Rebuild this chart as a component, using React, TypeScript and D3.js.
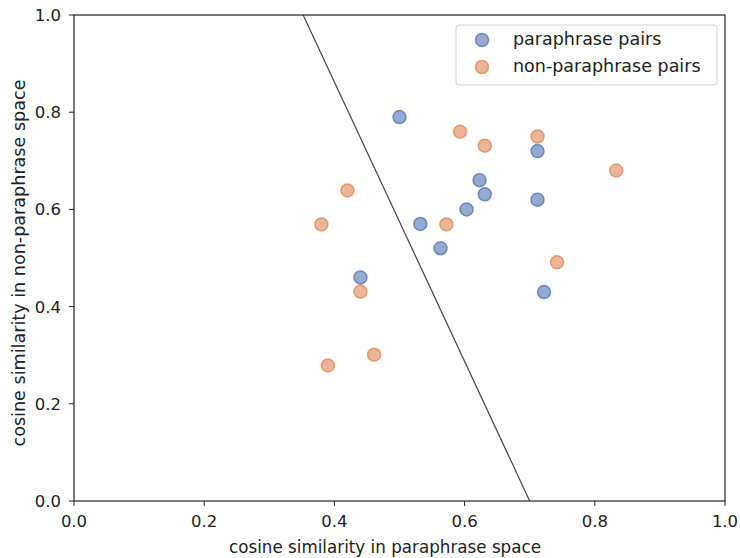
import React from "react";
import * as d3 from "d3";

const paraX = [0.5, 0.712, 0.623, 0.631, 0.712, 0.603, 0.532, 0.563, 0.44, 0.722];
const paraY = [0.79, 0.72, 0.66, 0.631, 0.62, 0.6, 0.57, 0.52, 0.46, 0.43];
const nonX = [0.593, 0.631, 0.712, 0.833, 0.42, 0.38, 0.572, 0.742, 0.44, 0.461, 0.39];
const nonY = [0.76, 0.731, 0.75, 0.68, 0.639, 0.569, 0.569, 0.491, 0.431, 0.301, 0.279];
const boundaryX = [0.352, 0.7];
const boundaryY = [1.0, 0.0];
const ticks = [0, 0.2, 0.4, 0.6, 0.8, 1.0];
const seriesNames = ["paraphrase pairs", "non-paraphrase pairs"];
const seriesColors = ["#4c72b0", "#dd8452"];

export default function App() {
  const W = 740, H = 558;
  const x = d3.scaleLinear().domain([0, 1]).range([74, 725]);
  const y = d3.scaleLinear().domain([0, 1]).range([501, 15]);
  const font = "DejaVu Sans, sans-serif";
  const line = d3.line<number>().x((d) => x(boundaryX[d])).y((d) => y(boundaryY[d]));
  const series = [
    { xs: paraX, ys: paraY },
    { xs: nonX, ys: nonY },
  ];
  return (
    <svg width={W} height={H} style={{ position: "absolute", left: 0, top: 0, background: "#fff" }}>
      <path d={line([0, 1]) || ""} stroke="#444" strokeWidth={1.2} fill="none" />
      {series.map((s, si) =>
        s.xs.map((v, i) => (
          <circle
            key={si + "-" + i}
            cx={x(v)}
            cy={y(s.ys[i])}
            r={6.5}
            fill={seriesColors[si]}
            fillOpacity={0.6}
            stroke={seriesColors[si]}
            strokeOpacity={0.75}
            strokeWidth={1.5}
          />
        ))
      )}
      <rect x={x(0)} y={y(1)} width={x(1) - x(0)} height={y(0) - y(1)} fill="none" stroke="#222" strokeWidth={1.2} />
      {ticks.map((t) => (
        <g key={"x" + t}>
          <line x1={x(t)} x2={x(t)} y1={y(0)} y2={y(0) + 5} stroke="#222" strokeWidth={1} />
          <text x={x(t)} y={527} textAnchor="middle" fontFamily={font} fontSize={16.5} fill="#222">
            {t.toFixed(1)}
          </text>
          <line x1={x(0) - 5} x2={x(0)} y1={y(t)} y2={y(t)} stroke="#222" strokeWidth={1} />
          <text x={61} y={y(t) + 6} textAnchor="end" fontFamily={font} fontSize={16.5} fill="#222">
            {t.toFixed(1)}
          </text>
        </g>
      ))}
      <text x={385} y={553} textAnchor="middle" fontFamily={font} fontSize={17} textLength={312} lengthAdjust="spacingAndGlyphs" fill="#222">
        cosine similarity in paraphrase space
      </text>
      <text
        transform={`translate(25,263) rotate(-90)`}
        textAnchor="middle"
        fontFamily={font}
        fontSize={17}
        textLength={367}
        lengthAdjust="spacingAndGlyphs"
        fill="#222"
      >
        cosine similarity in non-paraphrase space
      </text>
      <rect x={456} y={25} width={261} height={60} rx={3} fill="#fff" fillOpacity={0.8} stroke="#d0d0d0" strokeWidth={1} />
      {seriesNames.map((n, i) => (
        <g key={n}>
          <circle cx={482} cy={40 + i * 27} r={6.5} fill={seriesColors[i]} fillOpacity={0.6} stroke={seriesColors[i]} strokeOpacity={0.75} strokeWidth={1.5} />
          <text x={513} y={45 + i * 27} fontFamily={font} fontSize={17.5} fill="#222">
            {n}
          </text>
        </g>
      ))}
    </svg>
  );
}
